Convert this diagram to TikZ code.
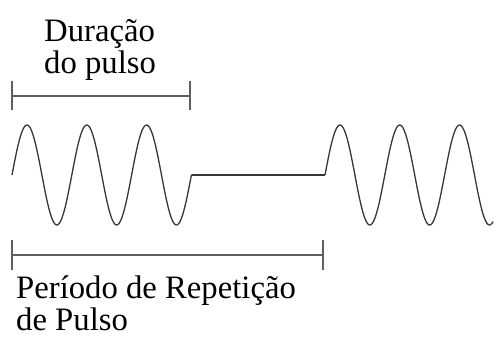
\documentclass[tikz,border=0pt]{standalone}
\usepackage{fontspec}
\setmainfont{Liberation Serif}
\usetikzlibrary{positioning}
\definecolor{linegray}{RGB}{95,95,95}
\definecolor{wavegray}{RGB}{55,55,55}

\begin{document}
\begin{tikzpicture}[x=1pt,y=-1pt,
    bracket/.style={linegray,line width=1.8pt},
    wave/.style={wavegray,line width=1.3pt},
    lbl/.style={font=\fontsize{32.7}{32}\selectfont,inner sep=0pt,align=left,anchor=base west}]
  \useasboundingbox (0,0) rectangle (495,338);
  % pulse duration
  \coordinate (dL) at (12,96);
  \coordinate (dR) at (190,96);
  \draw[bracket] (dL) -- (dR);
  \draw[bracket] (dL) ++(0,-15) -- ++(0,29);
  \draw[bracket] (dR) ++(0,-15) -- ++(0,29);
  \node[lbl] (dur) at (44,73) {Duração\\do pulso};
  % signal
  \coordinate (w1a) at (12,175);
  \coordinate (w1b) at (191.5,175);
  \coordinate (w2a) at (325,175);
  \draw[wave] plot[domain=12:191.5,samples=160,smooth] (\x,{175-50*sin(6.02*(\x-12))});
  \draw[wave] (w1b) -- (w2a);
  \draw[wave] plot[domain=325:493,samples=160,smooth] (\x,{175-50*sin(6.02*(\x-325))});
  % repetition period
  \coordinate (pL) at (12,255);
  \coordinate (pR) at (323,255);
  \draw[bracket] (pL) -- (pR);
  \draw[bracket] (pL) ++(0,-15) -- ++(0,30);
  \draw[bracket] (pR) ++(0,-15) -- ++(0,30);
  \node[lbl] (per) at (16,330) {Período de Repetição\\de Pulso};
\end{tikzpicture}
\end{document}
